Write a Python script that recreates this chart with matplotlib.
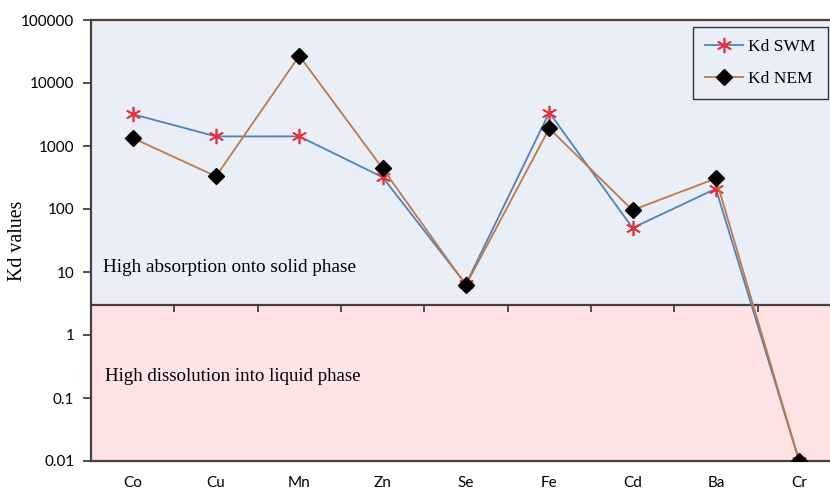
import numpy as np
import matplotlib.pyplot as plt
import matplotlib.transforms as mtransforms

elements = ['Co', 'Cu', 'Mn', 'Zn', 'Se', 'Fe', 'Cd', 'Ba', 'Cr']
kd_swm = [3200, 1420, 1420, 320, 6.4, 3400, 50, 210, 0.01]
kd_nem = [1340, 330, 27000, 440, 6.2, 1900, 96, 305, 0.01]
threshold = 3

fig = plt.figure(figsize=(8.3, 4.91), dpi=100)
ax = fig.add_axes([91 / 830, 30 / 491, 739 / 830, 441 / 491])

x = np.arange(len(elements))

ax.axhspan(threshold, 1e5, color='#e9eef7', zorder=0)
ax.axhspan(0.01, threshold, color='#fde3e3', zorder=0)
ax.axhline(threshold, color='#4a3e40', lw=1.6, zorder=1)

# small tick marks on the middle axis, between categories
trans = mtransforms.blended_transform_factory(ax.transData, ax.transAxes)
yb = (np.log10(threshold) + 2) / 7
ax.vlines(x[:-1] + 0.5, yb - 0.015, yb, transform=trans, color='#4a3e40', lw=1.3, zorder=1)

ax.plot(x, kd_swm, color='#4f81bd', lw=1.3, marker=(6, 2, 0), ms=11, mec='#e8303a',
        mew=1.2, label='Kd SWM', zorder=3)
ax.plot(x, kd_nem, color='#c07a45', lw=1.3, marker='D', ms=8, mfc='black', mec='black',
        label='Kd NEM', zorder=4)

ax.set_yscale('log')
ax.set_ylim(0.01, 1e5)
ax.set_xlim(-0.5, 8.37)
ax.set_yticks([0.01, 0.1, 1, 10, 100, 1000, 10000, 100000])
ax.set_yticklabels(['0.01', '0.1', '1', '10', '100', '1000', '10000', '100000'])
ax.minorticks_off()
ax.set_xticks(x)
ax.set_xticklabels(elements)
ax.tick_params(axis='x', length=0, pad=11, labelsize=11, labelfontfamily='Lato')
ax.tick_params(axis='y', length=6, width=1.3, color='#4a3e40', pad=6,
               labelsize=11, labelfontfamily='Lato')

for side in ['left', 'bottom', 'top']:
    ax.spines[side].set_color('#4a3e40')
    ax.spines[side].set_linewidth(1.6)
ax.spines['right'].set_visible(False)

fig.text(18 / 830, 1 - 241 / 491, 'Kd values', rotation=90, family='Liberation Serif',
         fontsize=14.3, ha='center', va='center')

ttrans = mtransforms.blended_transform_factory(ax.transAxes, ax.transData)
ax.text(12 / 739, 12, 'High absorption onto solid phase', transform=ttrans,
        family='Liberation Serif', fontsize=13.8, va='center')
ax.text(14 / 739, 0.22, 'High dissolution into liquid phase', transform=ttrans,
        family='Liberation Serif', fontsize=13.6, va='center')

leg = ax.legend(loc='upper right', bbox_to_anchor=(828 / 830, 1 - 27 / 491),
                bbox_transform=fig.transFigure, frameon=True, fancybox=False,
                prop={'family': 'Liberation Serif', 'size': 12.5}, borderpad=0.7,
                labelspacing=0.9, handlelength=2.2, handletextpad=0.3, borderaxespad=0)
leg.get_frame().set_edgecolor('#333333')
leg.get_frame().set_linewidth(1.0)
leg.get_frame().set_facecolor('#e9eef7')
leg.get_frame().set_alpha(1)

fig.savefig('out.png', dpi=100)
